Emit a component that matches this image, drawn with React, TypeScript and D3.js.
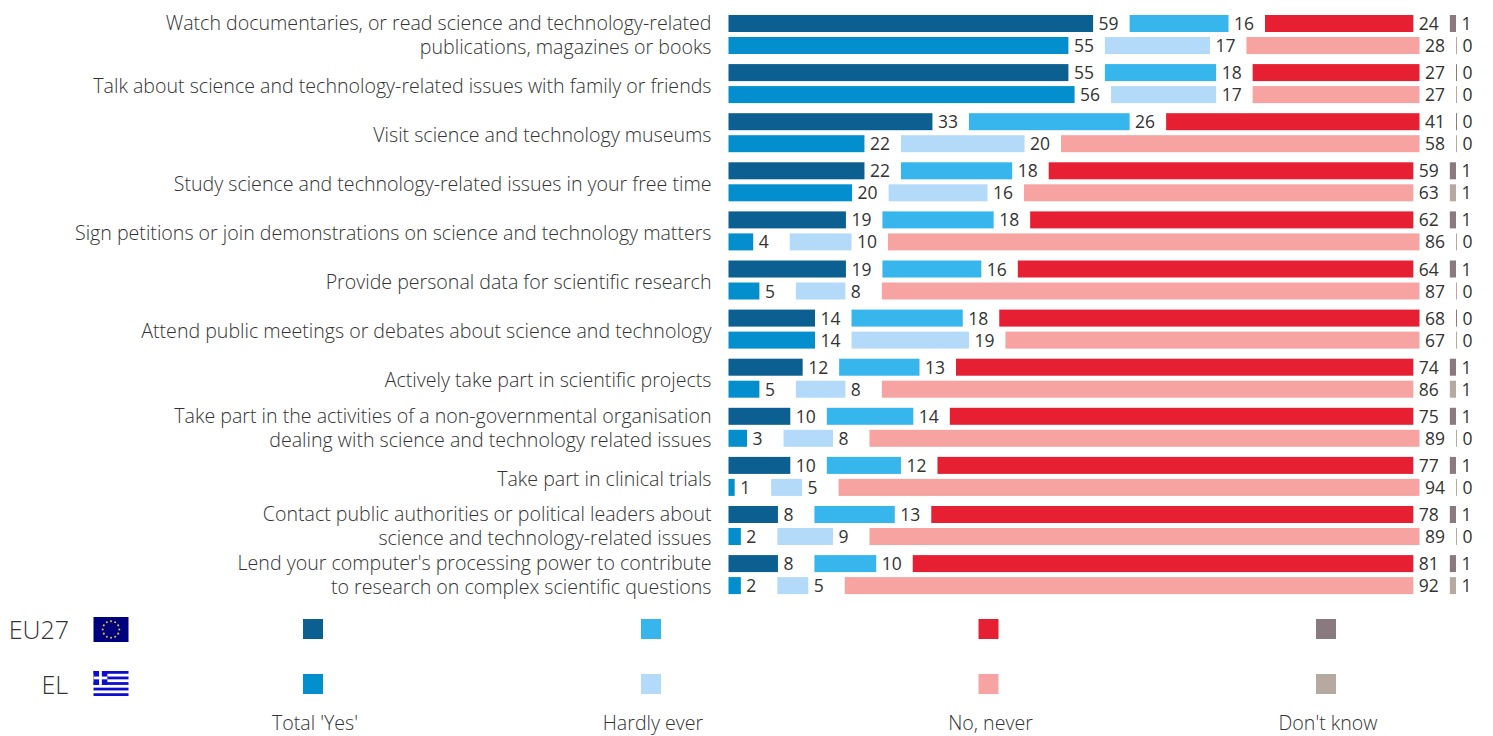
import React from 'react';
import * as d3 from 'd3';

const labels: string[][] = [
  ['Watch documentaries, or read science and technology-related', 'publications, magazines or books'],
  ['Talk about science and technology-related issues with family or friends'],
  ['Visit science and technology museums'],
  ['Study science and technology-related issues in your free time'],
  ['Sign petitions or join demonstrations on science and technology matters'],
  ['Provide personal data for scientific research'],
  ['Attend public meetings or debates about science and technology'],
  ['Actively take part in scientific projects'],
  ['Take part in the activities of a non-governmental organisation', 'dealing with science and technology related issues'],
  ['Take part in clinical trials'],
  ['Contact public authorities or political leaders about', 'science and technology-related issues'],
  ["Lend your computer's processing power to contribute", 'to research on complex scientific questions'],
];
const eu27: number[][] = [
  [59, 16, 24, 1], [55, 18, 27, 0], [33, 26, 41, 0], [22, 18, 59, 1], [19, 18, 62, 1], [19, 16, 64, 1],
  [14, 18, 68, 0], [12, 13, 74, 1], [10, 14, 75, 1], [10, 12, 77, 1], [8, 13, 78, 1], [8, 10, 81, 1],
];
const el: number[][] = [
  [55, 17, 28, 0], [56, 17, 27, 0], [22, 20, 58, 0], [20, 16, 63, 1], [4, 10, 86, 0], [5, 8, 87, 0],
  [14, 19, 67, 0], [5, 8, 86, 1], [3, 8, 89, 0], [1, 5, 94, 0], [2, 9, 89, 0], [2, 5, 92, 1],
];
const responses = ["Total 'Yes'", 'Hardly ever', 'No, never', "Don't know"];
const eu27Colors = ['#0b5f91', '#37b6ee', '#e62032', '#8a7a80'];
const elColors = ['#038fcd', '#b3daf9', '#f6a3a2', '#b5a9a2'];
const legendX = [313, 651, 988.5, 1326];

const W = 1493, H = 736;
const FONT = '"Open Sans", sans-serif';
const TEXT = '#333';

const x = d3.scaleLinear().domain([0, 100]).range([0, 618]);
const y = d3.scaleBand<number>().domain(d3.range(labels.length)).range([11.4, 11.4 + 49.1 * 12]);
const X0 = 728.5, GAP = 36.5, BAR_H = 17;

function Row({ vals, colors, top }: { vals: number[]; colors: string[]; top: number }) {
  const cum = d3.cumsum(vals);
  return (
    <g>
      {vals.map((v, i) => {
        const left = X0 + x(cum[i] - v) + GAP * i;
        const w = Math.max(x(v), 1);
        return (
          <g key={i}>
            <rect x={left} y={top} width={w} height={BAR_H} fill={colors[i]} />
            <text x={left + w + 5.5} y={top + 15} fontSize={17.5} fontFamily={FONT} fill={TEXT}>{v}</text>
          </g>
        );
      })}
    </g>
  );
}

function EuFlag({ x: fx, y: fy }: { x: number; y: number }) {
  return (
    <g>
      <rect x={fx} y={fy} width={35} height={25} fill="#00007f" />
      {d3.range(12).map((i) => (
        <circle key={i} cx={fx + 17.5 + 8.3 * Math.cos((i * Math.PI) / 6)} cy={fy + 12.5 + 8.3 * Math.sin((i * Math.PI) / 6)} r={1.05} fill="#d8c52a" />
      ))}
    </g>
  );
}

function GreekFlag({ x: fx, y: fy }: { x: number; y: number }) {
  const s = 25 / 9;
  return (
    <g>
      <rect x={fx} y={fy} width={35} height={25} fill="#fff" />
      {d3.range(0, 9, 2).map((i) => (
        <rect key={i} x={fx} y={fy + i * s} width={35} height={s} fill="#0d0dd0" />
      ))}
      <rect x={fx} y={fy} width={s * 5} height={s * 5} fill="#0d0dd0" />
      <rect x={fx + s * 2} y={fy} width={s} height={s * 5} fill="#fff" />
      <rect x={fx} y={fy + s * 2} width={s * 5} height={s} fill="#fff" />
    </g>
  );
}

export default function App() {
  return (
    <svg width={W} height={H} viewBox={`0 0 ${W} ${H}`} style={{ position: 'absolute', left: 0, top: 0, background: '#fff' }}>
      {labels.map((lines, i) => {
        const top = y(i)! + 3.6;
        const mid = top + 19.5 + (lines.length === 1 ? 2.2 : 0.3);
        return (
          <g key={i}>
            {lines.map((l, j) => (
              <text key={j} x={711.5} y={mid + 7 + (j - (lines.length - 1) / 2) * 24} textAnchor="end" fontSize={19.6} fontWeight={300} fontFamily={FONT} fill={TEXT}>{l}</text>
            ))}
            <Row vals={eu27[i]} colors={eu27Colors} top={top} />
            <Row vals={el[i]} colors={elColors} top={top + 22} />
          </g>
        );
      })}
      <text x={69} y={639} textAnchor="end" fontSize={25} fontWeight={300} fontFamily={FONT} fill={TEXT}>EU27</text>
      <text x={68} y={694} textAnchor="end" fontSize={25} fontWeight={300} fontFamily={FONT} fill={TEXT}>EL</text>
      <EuFlag x={93.5} y={617} />
      <GreekFlag x={93.5} y={671} />
      {responses.map((r, i) => (
        <g key={r}>
          <rect x={legendX[i] - 10} y={619} width={20} height={20} fill={eu27Colors[i]} />
          <rect x={legendX[i] - 10} y={674} width={20} height={20} fill={elColors[i]} />
          <text x={legendX[i] + 2} y={730} textAnchor="middle" fontSize={19.6} fontWeight={300} fontFamily={FONT} fill={TEXT}>{r}</text>
        </g>
      ))}
    </svg>
  );
}
